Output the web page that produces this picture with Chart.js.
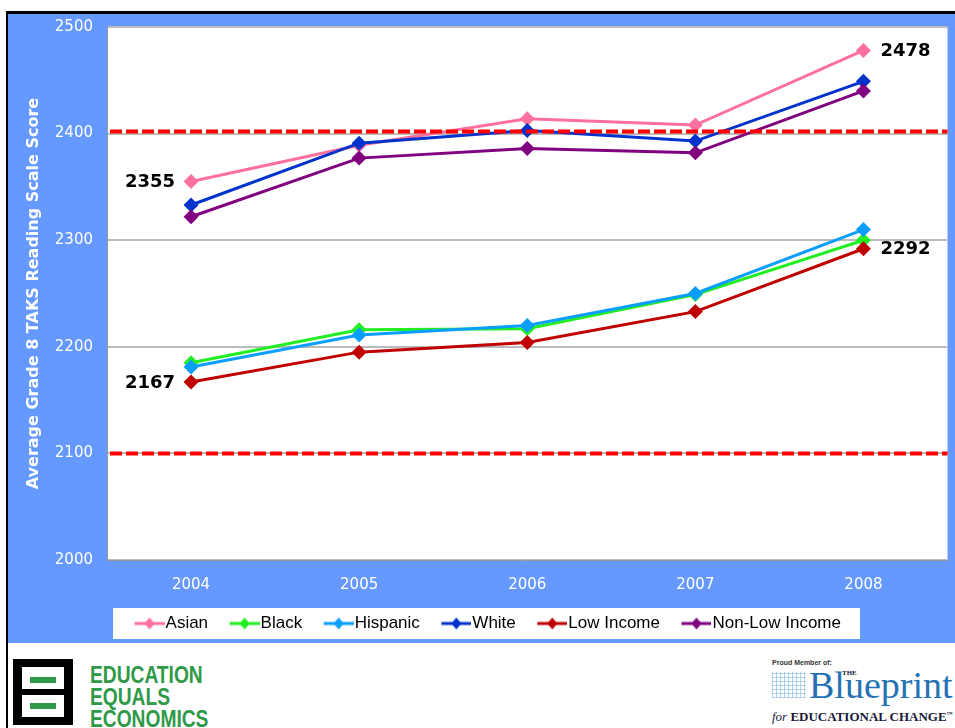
<!DOCTYPE html>
<html>
<head>
<meta charset="utf-8">
<script src="https://cdn.jsdelivr.net/npm/chart.js@4"></script>
<style>
  body { margin: 0; background: #fff; width: 955px; height: 728px; overflow: hidden; position: relative; }
  #frame { position: absolute; left: 6px; top: 11px; width: 960px; height: 730px; border-left: 2px solid #000; border-top: 3px solid #000; }
  #wrap { position: absolute; left: 8px; top: 14px; width: 947px; height: 629px; background: #6699FF; }
  /* logo on the left */
  #eeeIcon { position: absolute; left: 13px; top: 659px; width: 60px; height: 66px; background: #000; }
  #eeeIcon .inner { position: absolute; left: 9px; top: 8px; width: 42px; height: 50px; background: #fff; }
  #eeeIcon .mid { position: absolute; left: 9px; top: 30px; width: 42px; height: 6px; background: #000; }
  #eeeIcon .g1, #eeeIcon .g2 { position: absolute; left: 17px; width: 26px; height: 6px; background: #2E9A47; }
  #eeeIcon .g1 { top: 18px; }
  #eeeIcon .g2 { top: 44px; }
  .eee { position: absolute; left: 90px; font: bold 24px 'Liberation Sans', Arial, sans-serif; color: #2E9A47; transform: scaleX(0.8); transform-origin: left top; line-height: 24px; }
  /* logo on the right */
  .bp { position: absolute; font-family: 'Liberation Serif', 'Times New Roman', serif; }
  #bpGrid { position: absolute; left: 772px; top: 672px; width: 34px; height: 26px;
    background-image: repeating-linear-gradient(0deg, #9CC3E6 0 1px, transparent 1px 4px), repeating-linear-gradient(90deg, #9CC3E6 0 1px, transparent 1px 4px); opacity: 0.8; }
</style>
</head>
<body>
<div id="frame"></div>
<div id="wrap"><canvas id="grafico"></canvas></div>

<div id="eeeIcon"><div class="inner"></div><div class="mid"></div><div class="g1"></div><div class="g2"></div></div>
<div class="eee" style="top:663px">EDUCATION</div>
<div class="eee" style="top:685px">EQUALS</div>
<div class="eee" style="top:707px">ECONOMICS</div>

<div class="bp" style="left:772px;top:659px;font:bold 7px 'Liberation Sans',Arial,sans-serif;color:#333">Proud Member of:</div>
<div id="bpGrid"></div>
<div class="bp" style="left:842px;top:669px;font-size:7px;font-weight:bold;color:#1a1a3a">THE</div>
<div class="bp" style="left:809px;top:665px;font-size:38px;line-height:40px;color:#2472B5">Blueprint</div>
<div class="bp" style="left:772px;top:709px;font-size:13px;font-weight:bold;color:#1a1a3a;white-space:nowrap"><i style="font-weight:normal">for</i> EDUCATIONAL CHANGE<sup style="font-size:6px">™</sup></div>

<script>
// Dados do gráfico
const anos = ['2004', '2005', '2006', '2007', '2008'];
const series = ['Asian', 'Black', 'Hispanic', 'White', 'Low Income', 'Non-Low Income'];
const asian = [2355, 2389, 2414, 2408, 2478];
const black = [2185, 2216, 2217, 2249, 2300];
const hispanic = [2181, 2211, 2220, 2250, 2310];
const white = [2333, 2391, 2403, 2393, 2449];
const lowIncome = [2167, 2195, 2204, 2233, 2292];
const nonLowIncome = [2322, 2377, 2386, 2382, 2440];
const yTicks = [2000, 2100, 2200, 2300, 2400, 2500];
const padroes = [2402, 2100]; // linhas tracejadas vermelhas
const destaques = [['Asian', '2004', 'left'], ['Low Income', '2004', 'left'], ['Asian', '2008', 'right'], ['Low Income', '2008', 'right']];

const cores = ['#FF6F9F', '#22EE22', '#0A9EFF', '#0033CC', '#C00000', '#800080'];
const valores = [asian, black, hispanic, white, lowIncome, nonLowIncome];

// marcador da legenda: linha com losango (à direita de uma imagem mais larga, para afastar os itens)
function marcador(cor) {
    const c = document.createElement('canvas');
    c.width = 49; c.height = 14;
    const g = c.getContext('2d');
    g.strokeStyle = cor; g.lineWidth = 3;
    g.beginPath(); g.moveTo(19, 7); g.lineTo(49, 7); g.stroke();
    g.fillStyle = cor;
    g.beginPath(); g.moveTo(34, 1); g.lineTo(39, 7); g.lineTo(34, 13); g.lineTo(29, 7); g.closePath(); g.fill();
    return c;
}
const marcadores = cores.map(marcador);

// fundo branco da área do gráfico e da legenda
const fundos = {
    id: 'fundos',
    beforeDraw(chart) {
        const { ctx, chartArea: a } = chart;
        ctx.save();
        ctx.fillStyle = '#fff';
        ctx.fillRect(a.left, a.top, a.right - a.left, a.bottom - a.top);
        const hb = chart.legend.legendHitBoxes;
        if (hb.length) {
            const first = hb[0], last = hb[hb.length - 1];
            const x0 = first.left - 10, x1 = last.left + last.width + 19;
            ctx.fillRect(x0, first.top - 7, x1 - x0, first.height + 14);
        }
        ctx.restore();
    }
};

// linhas tracejadas dos padrões + rótulos dos valores
const extras = {
    id: 'extras',
    afterDatasetsDraw(chart) {
        const { ctx, chartArea: a } = chart;
        const y = chart.scales.y;
        ctx.save();
        ctx.strokeStyle = '#FF0000';
        ctx.lineWidth = 4;
        ctx.setLineDash([12, 4]);
        padroes.forEach(v => {
            const py = y.getPixelForValue(v);
            ctx.beginPath(); ctx.moveTo(a.left + 3, py); ctx.lineTo(a.right, py); ctx.stroke();
        });
        ctx.setLineDash([]);
        ctx.fillStyle = '#000';
        ctx.font = "bold 18px 'DejaVu Sans', Verdana, sans-serif";
        ctx.textBaseline = 'middle';
        destaques.forEach(([nome, ano, lado]) => {
            const di = series.indexOf(nome), pi = anos.indexOf(ano);
            const p = chart.getDatasetMeta(di).data[pi];
            const txt = String(valores[di][pi]);
            if (lado === 'left') { ctx.textAlign = 'right'; ctx.fillText(txt, p.x - 16, p.y + 1); }
            else { ctx.textAlign = 'left'; ctx.fillText(txt, p.x + 17, p.y + 1); }
        });
        ctx.restore();
    }
};

const fonteEixo = { family: "'DejaVu Sans', Verdana, sans-serif", size: 15 };

new Chart(document.getElementById('grafico'), {
    type: 'line',
    data: {
        labels: anos,
        datasets: series.map((nome, i) => ({
            label: nome,
            data: valores[i],
            borderColor: cores[i],
            backgroundColor: cores[i],
            borderWidth: 3,
            pointStyle: 'rectRot',
            pointRadius: 7.5,
            pointBorderWidth: 0,
            order: -i
        }))
    },
    options: {
        responsive: true,
        maintainAspectRatio: false,
        animation: false,
        layout: { padding: { top: 13, right: 5, bottom: 1, left: 6 } },
        plugins: {
            tooltip: { enabled: false },
            legend: {
                position: 'bottom',
                labels: {
                    usePointStyle: true,
                    pointStyleWidth: 34,
                    padding: 10,
                    color: '#000',
                    font: { family: "'Liberation Sans', Arial, sans-serif", size: 17 },
                    generateLabels: chart => Chart.defaults.plugins.legend.labels.generateLabels(chart)
                        .sort((p, q) => p.datasetIndex - q.datasetIndex)
                        .map(l => Object.assign(l, { pointStyle: marcadores[l.datasetIndex] }))
                }
            }
        },
        scales: {
            x: {
                offset: true,
                grid: { display: false, drawTicks: false },
                border: { color: '#999', width: 1 },
                ticks: { color: '#fff', font: fonteEixo, padding: 16 },
                afterFit: s => { s.height = 45; }
            },
            y: {
                min: 2000,
                max: 2500,
                afterBuildTicks: s => { s.ticks = yTicks.map(v => ({ value: v })); },
                grid: { color: '#BBBBBB', lineWidth: 2, drawTicks: false },
                border: { color: '#999', width: 1 },
                ticks: { color: '#fff', font: fonteEixo, padding: 14, callback: v => String(v) },
                title: {
                    display: true,
                    text: 'Average Grade 8 TAKS Reading Scale Score',
                    color: '#fff',
                    font: { family: "'DejaVu Sans', Verdana, sans-serif", size: 16, weight: 'bold' },
                    padding: { top: 10, bottom: 0 }
                },
                afterFit: s => { s.width = 93; s.paddingTop = 0; s.paddingBottom = 0; }
            }
        }
    },
    plugins: [fundos, extras]
});
</script>
</body>
</html>
